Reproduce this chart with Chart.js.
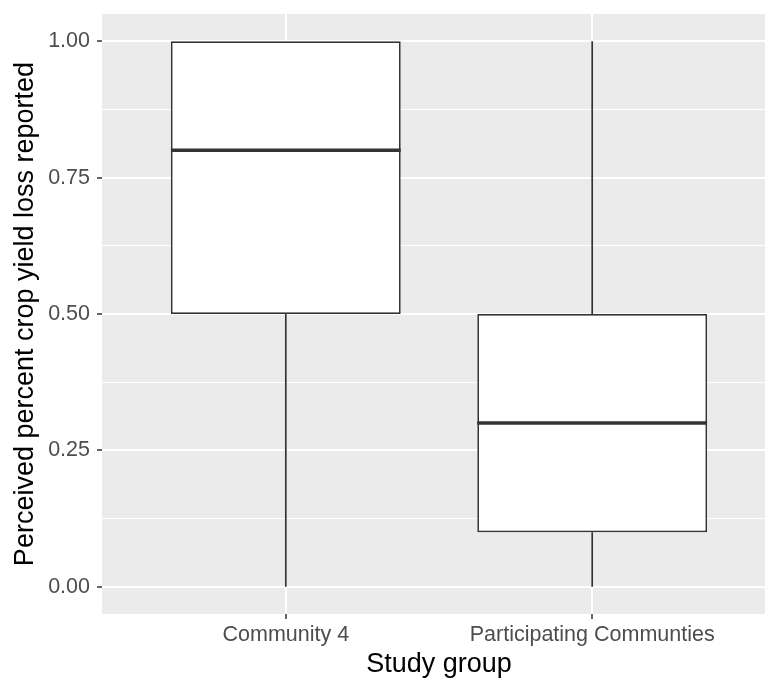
<!DOCTYPE html>
<html>
<head>
<meta charset="utf-8">
<script src="https://cdn.jsdelivr.net/npm/chart.js@4"></script>
<style>
  html, body { margin: 0; padding: 0; background: #fff; overflow: hidden; }
  canvas { display: block; }
</style>
</head>
<body>
<canvas id="graph" width="776" height="678"></canvas>
<script>
const groups = ['Community 4', 'Participating Communties']
const mins = [0, 0]
const lowerQ = [0.5, 0.1]
const medians = [0.8, 0.3]
const upperQ = [1.0, 0.5]
const maxs = [1.0, 1.0]
const yMajor = [0, 0.25, 0.5, 0.75, 1]
const yMinor = [0.125, 0.375, 0.625, 0.875]

const boxWidth = 0.75
const ink = '#333333'

Chart.defaults.font.family = '"Liberation Sans", Arial, sans-serif'

const panelBg = {
    id: 'panelBg',
    beforeDraw(chart) {
        const a = chart.chartArea
        const ctx = chart.ctx
        ctx.save()
        ctx.fillStyle = '#EBEBEB'
        ctx.fillRect(a.left, a.top, a.right - a.left, a.bottom - a.top)
        ctx.restore()
    }
}

const seg = (pts, width, order) => ({
    type: 'line',
    data: pts,
    borderColor: ink,
    borderWidth: width,
    pointRadius: 0,
    fill: false,
    tension: 0,
    order: order
})

const datasets = [
    {
        type: 'bar',
        data: groups.map((g, i) => ({ x: i, y: [lowerQ[i], upperQ[i]] })),
        backgroundColor: '#ffffff',
        borderColor: ink,
        borderWidth: 1.7,
        borderSkipped: false,
        barPercentage: boxWidth,
        categoryPercentage: 1,
        order: 1
    }
]
groups.forEach((g, i) => {
    datasets.push(seg([{ x: i, y: mins[i] }, { x: i, y: lowerQ[i] }], 1.7, 2))
    datasets.push(seg([{ x: i, y: upperQ[i] }, { x: i, y: maxs[i] }], 1.7, 2))
    datasets.push(seg([{ x: i - boxWidth / 2, y: medians[i] }, { x: i + boxWidth / 2, y: medians[i] }], 3.5, 0))
})

const isMajor = v => yMajor.some(m => Math.abs(m - v) < 1e-9)

new Chart(document.getElementById('graph'), {
    type: 'bar',
    data: { datasets },
    plugins: [panelBg],
    options: {
        responsive: false,
        animation: false,
        layout: { padding: { top: 14, left: 0, right: 0, bottom: 0 } },
        plugins: { legend: { display: false }, tooltip: { enabled: false } },
        scales: {
            x: {
                type: 'linear',
                min: -0.6,
                max: groups.length - 0.4,
                offset: false,
                afterBuildTicks: s => { s.ticks = groups.map((g, i) => ({ value: i })) },
                afterFit: s => { s.height = 64 },
                ticks: {
                    autoSkip: false,
                    maxRotation: 0,
                    color: '#4D4D4D',
                    font: { size: 21.5 },
                    padding: 3,
                    callback: v => groups[v]
                },
                grid: {
                    offset: false,
                    color: '#ffffff',
                    lineWidth: 2,
                    tickColor: ink,
                    tickLength: 5,
                    tickWidth: 1.5
                },
                border: { display: false },
                title: {
                    display: true,
                    text: 'Study group',
                    color: '#000000',
                    font: { size: 27, lineHeight: 1 },
                    padding: { top: 0, bottom: 0 }
                }
            },
            y: {
                type: 'linear',
                min: -0.05,
                max: 1.05,
                afterBuildTicks: s => {
                    s.ticks = [...yMajor, ...yMinor].sort((a, b) => a - b).map(v => ({ value: v }))
                },
                afterFit: s => { s.width = 102 },
                ticks: {
                    autoSkip: false,
                    color: '#4D4D4D',
                    font: { size: 21.5, lineHeight: 0.6 },
                    padding: 7,
                    callback: v => isMajor(v) ? v.toFixed(2) : ''
                },
                grid: {
                    color: '#ffffff',
                    lineWidth: c => isMajor(c.tick.value) ? 2 : 1,
                    tickColor: c => isMajor(c.tick.value) ? ink : 'rgba(0,0,0,0)',
                    tickLength: 5,
                    tickWidth: 1.5
                },
                border: { display: false },
                title: {
                    display: true,
                    text: 'Perceived percent crop yield loss reported',
                    color: '#000000',
                    font: { size: 27, lineHeight: 1 },
                    padding: { top: 12, bottom: 0 }
                }
            }
        }
    }
})
</script>
</body>
</html>
